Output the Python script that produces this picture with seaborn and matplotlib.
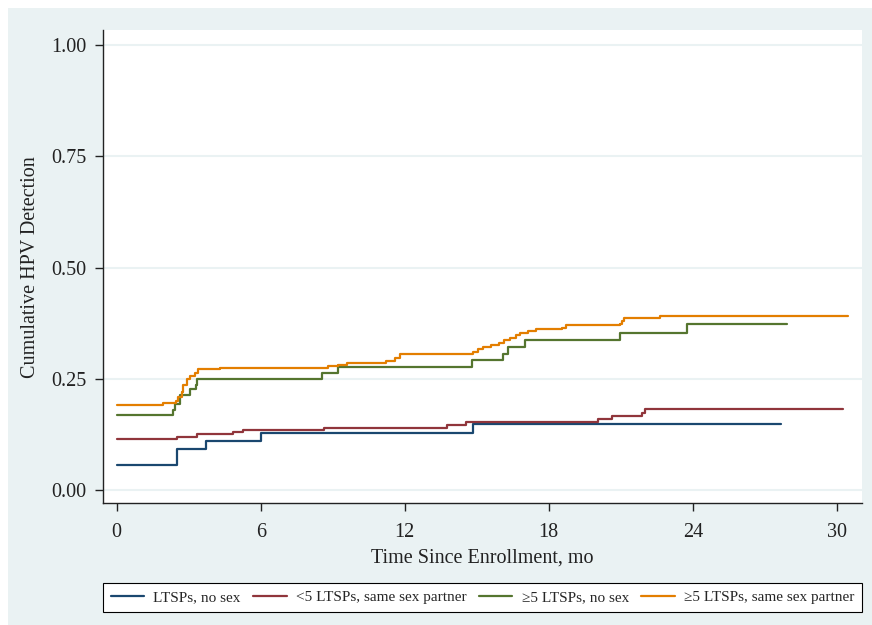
import pandas as pd
import seaborn as sns
import matplotlib.pyplot as plt
from matplotlib.patches import Rectangle

# Kaplan-Meier style cumulative detection
groups = ['LTSPs, no sex', '<5 LTSPs, same sex partner',
          '≥5 LTSPs, no sex', '≥5 LTSPs, same sex partner']
colors = ['#1a476f', '#90353b', '#55752f', '#e37e00']

blue_t = [0, 2.50, 3.72, 6.01, 14.86, 27.67]
blue_v = [0.056, 0.091, 0.110, 0.128, 0.148, 0.148]

red_t = [0, 2.53, 3.36, 4.83, 5.25, 8.65, 13.75, 14.54, 20.07, 20.63, 21.88, 22.01, 30.25]
red_v = [0.114, 0.120, 0.126, 0.130, 0.135, 0.140, 0.146, 0.152, 0.159, 0.167, 0.173, 0.181, 0.181]

green_t = [0, 2.33, 2.43, 2.64, 3.05, 3.29, 3.36, 8.54, 9.23, 14.80, 16.11, 16.32, 17.01,
           20.97, 23.75, 27.94]
green_v = [0.169, 0.179, 0.193, 0.214, 0.226, 0.237, 0.250, 0.264, 0.277, 0.292, 0.306, 0.322,
           0.337, 0.353, 0.374, 0.374]

orange_t = [0, 1.92, 2.47, 2.57, 2.71, 2.78, 2.94, 3.05, 3.26, 3.40, 4.30, 8.79, 9.21, 9.58,
            11.22, 11.60, 11.80, 14.83, 15.07, 15.28, 15.58, 15.94, 16.15, 16.39, 16.64, 16.80,
            17.13, 17.47, 18.54, 18.73, 20.97, 21.05, 21.15, 22.64, 30.48]
orange_v = [0.191, 0.195, 0.201, 0.209, 0.220, 0.235, 0.250, 0.256, 0.262, 0.271, 0.274, 0.278,
            0.282, 0.285, 0.291, 0.297, 0.306, 0.311, 0.316, 0.322, 0.326, 0.330, 0.336, 0.341,
            0.348, 0.353, 0.357, 0.361, 0.365, 0.370, 0.374, 0.380, 0.386, 0.391, 0.391]

x_ticks = [0, 6, 12, 18, 24, 30]
y_ticks = [0, 0.25, 0.5, 0.75, 1.0]

frames = []
for name, t, v in zip(groups, [blue_t, red_t, green_t, orange_t], [blue_v, red_v, green_v, orange_v]):
    frames.append(pd.DataFrame({'month': t, 'cum': v, 'group': name}))
data = pd.concat(frames, ignore_index=True)

sns.set_style('ticks')
plt.rcParams['font.family'] = ['Liberation Serif', 'DejaVu Serif']

bg = '#eaf2f3'
fig = plt.figure(figsize=(8.72, 6.25), dpi=100)
fig.patches.append(Rectangle((8 / 872, 0), 1, 1 - 8 / 625, transform=fig.transFigure,
                             facecolor=bg, edgecolor='none', zorder=-10))
ax = fig.add_axes([103 / 872, 1 - 503.3 / 625, (862 - 103) / 872, (503.3 - 30) / 625])

sns.lineplot(data=data, x='month', y='cum', hue='group', hue_order=groups, palette=colors,
             drawstyle='steps-post', estimator=None, lw=1.6, ax=ax)

ax.set_xlim(-0.57, 31.05)
ax.set_ylim(-0.030, 1.034)
ax.set_xticks(x_ticks)
ax.set_yticks(y_ticks)
ax.set_yticklabels([f'{v:.2f}' for v in y_ticks])
ax.grid(axis='y', color=bg, lw=1.5)
ax.set_axisbelow(True)
for side in ['top', 'right']:
    ax.spines[side].set_visible(False)
for side in ['left', 'bottom']:
    ax.spines[side].set_color('#222222')
    ax.spines[side].set_linewidth(1.0)
ax.tick_params(axis='both', length=6, width=1, color='#222222', labelsize=14.5, labelcolor='#222222')
ax.tick_params(axis='x', pad=8)
ax.tick_params(axis='y', pad=6)
ax.set_xlabel('Time Since Enrollment, mo', fontsize=14.5, color='#222222', labelpad=5)
ax.set_ylabel('Cumulative HPV Detection', fontsize=14.5, color='#222222', labelpad=8)

handles, labels = ax.get_legend_handles_labels()
ax.get_legend().remove()
leg = fig.legend(handles, labels, loc='center', ncol=4, mode='expand',
                 bbox_to_anchor=(103 / 872, 1 - 613 / 625, 759 / 872, 31 / 625),
                 frameon=True, fancybox=False, edgecolor='black', framealpha=1,
                 fontsize=11, handlelength=2.2, handletextpad=0.6, borderaxespad=0,
                 borderpad=0.5)
leg.get_frame().set_linewidth(0.8)

fig.savefig('out.png', dpi=100)
